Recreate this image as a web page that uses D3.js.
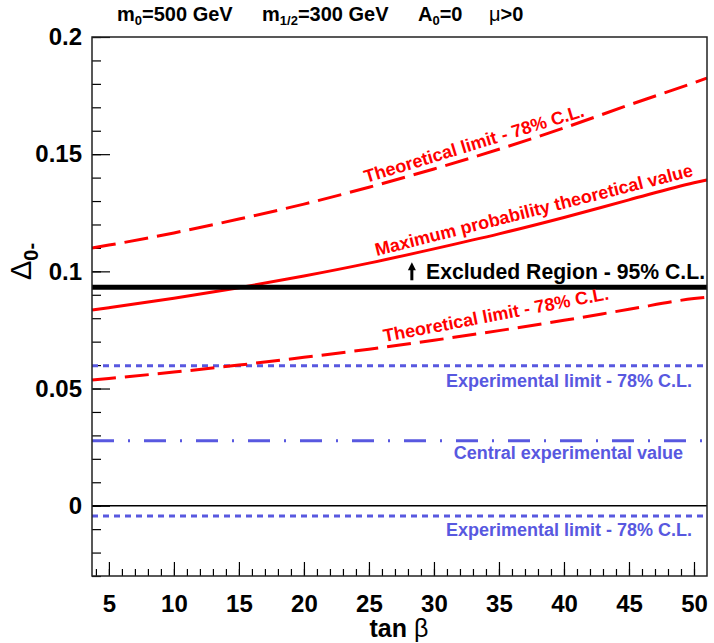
<!DOCTYPE html>
<html>
<head>
<meta charset="utf-8">
<script src="https://cdn.jsdelivr.net/npm/d3@7"></script>
<style>
  body { margin: 0; background: #fff; }
  text { font-family: "Liberation Sans", Arial, Helvetica, sans-serif; }
</style>
</head>
<body>
<div id="graph1"></div>
<script>
// tan beta sample points
var tanBeta = [3.7, 5, 10, 15, 20, 25, 30, 35, 40, 45, 50, 51];
var thUpper = [0.110, 0.1112, 0.1164, 0.1223, 0.1287, 0.1359, 0.1437, 0.1521, 0.1612, 0.1710, 0.1805, 0.1825];
var maxProb = [0.0835, 0.0845, 0.0885, 0.0930, 0.0980, 0.1035, 0.1096, 0.1160, 0.1230, 0.1305, 0.1378, 0.1390];
var thLower = [0.0536, 0.0543, 0.0570, 0.0600, 0.0633, 0.0668, 0.0706, 0.0747, 0.0791, 0.0838, 0.0884, 0.0890];

// horizontal levels
var excluded = 0.0932;
var expUpper = 0.0597;
var expCentral = 0.0277;
var expLower = -0.0044;

var xTicks = [5, 10, 15, 20, 25, 30, 35, 40, 45, 50];
var yTicks = [0, 0.05, 0.1, 0.15, 0.2];

var w = 714;
var h = 643;
var margin = {
    top: 37,
    bottom: 67,
    left: 92,
    right: 7
};
var width = w - margin.left - margin.right;
var height = h - margin.top - margin.bottom;

var red = "#ff0000";
var blue = "#5858e0";

var svg = d3.select("#graph1").append("svg")
    .attr("width", w)
    .attr("height", h);
svg.append("rect").attr("width", w).attr("height", h).attr("fill", "#fff");

var chart = svg.append("g")
    .attr("transform", "translate(" + margin.left + "," + margin.top + ")");

var x = d3.scaleLinear().domain([3.7, 51]).range([0, width]);
var y = d3.scaleLinear().domain([-0.03, 0.2]).range([height, 0]);

// minor ticks
chart.append("g")
    .attr("transform", "translate(0," + height + ")")
    .call(d3.axisBottom(x).tickValues(d3.range(4, 51, 1)).tickSizeInner(-7).tickSizeOuter(0).tickFormat(""))
    .call(function(g){ g.select(".domain").remove(); });
chart.append("g")
    .call(d3.axisLeft(y).tickValues(d3.range(-3, 21, 1).map(function(d){ return d / 100; })).tickSizeInner(-9).tickSizeOuter(0).tickFormat(""))
    .call(function(g){ g.select(".domain").remove(); });

// major ticks + labels
var xAxis = chart.append("g")
    .attr("transform", "translate(0," + height + ")")
    .call(d3.axisBottom(x).tickValues(xTicks).tickSizeInner(-14).tickSizeOuter(0).tickPadding(19).tickFormat(d3.format("d")));
xAxis.select(".domain").remove();
xAxis.selectAll("text")
    .attr("font-size", 24)
    .attr("font-weight", "bold")
    .attr("fill", "#000");

var yAxis = chart.append("g")
    .call(d3.axisLeft(y).tickValues(yTicks).tickSizeInner(-18).tickSizeOuter(0).tickPadding(10).tickFormat(function(d){ return d3.format("")(+d.toFixed(2)); }));
yAxis.select(".domain").remove();
yAxis.selectAll("text")
    .attr("font-size", 24)
    .attr("font-weight", "bold")
    .attr("fill", "#000");

chart.selectAll(".tick line").attr("stroke", "#000").attr("stroke-width", 1.2);

// zero line
chart.append("line")
    .attr("x1", 0).attr("x2", width)
    .attr("y1", y(0)).attr("y2", y(0))
    .attr("stroke", "#000").attr("stroke-width", 1.4);

// experimental horizontal lines
function hline(v, color, dash, sw){
    chart.append("line")
        .attr("x1", 0).attr("x2", width)
        .attr("y1", y(v)).attr("y2", y(v))
        .attr("stroke", color)
        .attr("stroke-width", sw)
        .attr("stroke-dasharray", dash);
}
hline(expUpper, blue, "6,5", 3);
hline(expLower, blue, "6,5", 3);
hline(expCentral, blue, "22,14,2,14", 3);

// theory curves
var line = d3.line()
    .x(function(d){ return x(d[0]); })
    .y(function(d){ return y(d[1]); })
    .curve(d3.curveMonotoneX);

function curve(vals, dash){
    chart.append("path")
        .datum(tanBeta.map(function(t, i){ return [t, vals[i]]; }))
        .attr("d", line)
        .attr("fill", "none")
        .attr("stroke", red)
        .attr("stroke-width", 3)
        .attr("stroke-dasharray", dash);
}
curve(thUpper, "24,9");
curve(maxProb, null);
curve(thLower, "24,9");

// excluded region
hline(excluded, "#000", null, 5);

// frame
chart.append("rect")
    .attr("width", width).attr("height", height)
    .attr("fill", "none")
    .attr("stroke", "#222")
    .attr("stroke-width", 1.5);

// labels on the curves
function rotLabel(t, v, angle, txt, color, size){
    chart.append("text")
        .attr("transform", "translate(" + x(t) + "," + y(v) + ") rotate(" + angle + ")")
        .attr("font-size", size)
        .attr("font-weight", "bold")
        .attr("fill", color)
        .text(txt);
}
rotLabel(24.8, 0.1377, -17, "Theoretical limit - 78% C.L.", red, 18);
rotLabel(25.6, 0.1065, -14.2, "Maximum probability theoretical value", red, 18);
rotLabel(26.2, 0.0698, -10.8, "Theoretical limit - 78% C.L.", red, 18);

function endLabel(t, v, dy, txt, color, size){
    chart.append("text")
        .attr("x", x(t))
        .attr("y", y(v) + dy)
        .attr("text-anchor", "end")
        .attr("font-size", size)
        .attr("font-weight", "bold")
        .attr("fill", color)
        .text(txt);
}
endLabel(50.85, excluded, -8, "Excluded Region - 95% C.L.", "#000", 21.2);
endLabel(49.85, expUpper, 21, "Experimental limit - 78% C.L.", blue, 18);
endLabel(49.15, expCentral, 18, "Central experimental value", blue, 18);
endLabel(49.85, expLower, 20, "Experimental limit - 78% C.L.", blue, 18);

// arrow next to excluded label
var ax = x(28.3);
chart.append("line")
    .attr("x1", ax).attr("x2", ax)
    .attr("y1", y(excluded) - 7).attr("y2", y(excluded) - 19)
    .attr("stroke", "#000").attr("stroke-width", 3);
chart.append("path")
    .attr("d", "M" + (ax - 4) + "," + (y(excluded) - 17) + "L" + ax + "," + (y(excluded) - 25) + "L" + (ax + 4) + "," + (y(excluded) - 17) + "Z")
    .attr("fill", "#000");

// axis titles
svg.append("text")
    .attr("x", margin.left + x(27.3))
    .attr("y", 637)
    .attr("text-anchor", "middle")
    .attr("font-size", 25)
    .attr("font-weight", "bold")
    .html('tan <tspan font-weight="normal">β</tspan>');

var ylab = svg.append("text")
    .attr("transform", "translate(31,280) rotate(-90)")
    .attr("font-size", 29);
ylab.append("tspan").text("Δ");
ylab.append("tspan").attr("dy", 7).attr("font-size", 20).attr("font-weight", "bold").text("0-");

// top parameters line
var title = svg.append("g").attr("font-size", 20).attr("font-weight", "bold");
function param(xp, main, sub, rest, weight){
    var t = title.append("text").attr("x", xp).attr("y", 21);
    t.append("tspan").attr("font-weight", weight || "bold").text(main);
    if (sub) {
        t.append("tspan").attr("dy", 4).attr("font-size", 13).text(sub);
        t.append("tspan").attr("dy", -4).text(rest);
    } else {
        t.append("tspan").text(rest);
    }
}
param(117, "m", "0", "=500 GeV");
param(262, "m", "1/2", "=300 GeV");
param(418, "A", "0", "=0");
param(489, "μ", null, ">0", "normal");
</script>
</body>
</html>
